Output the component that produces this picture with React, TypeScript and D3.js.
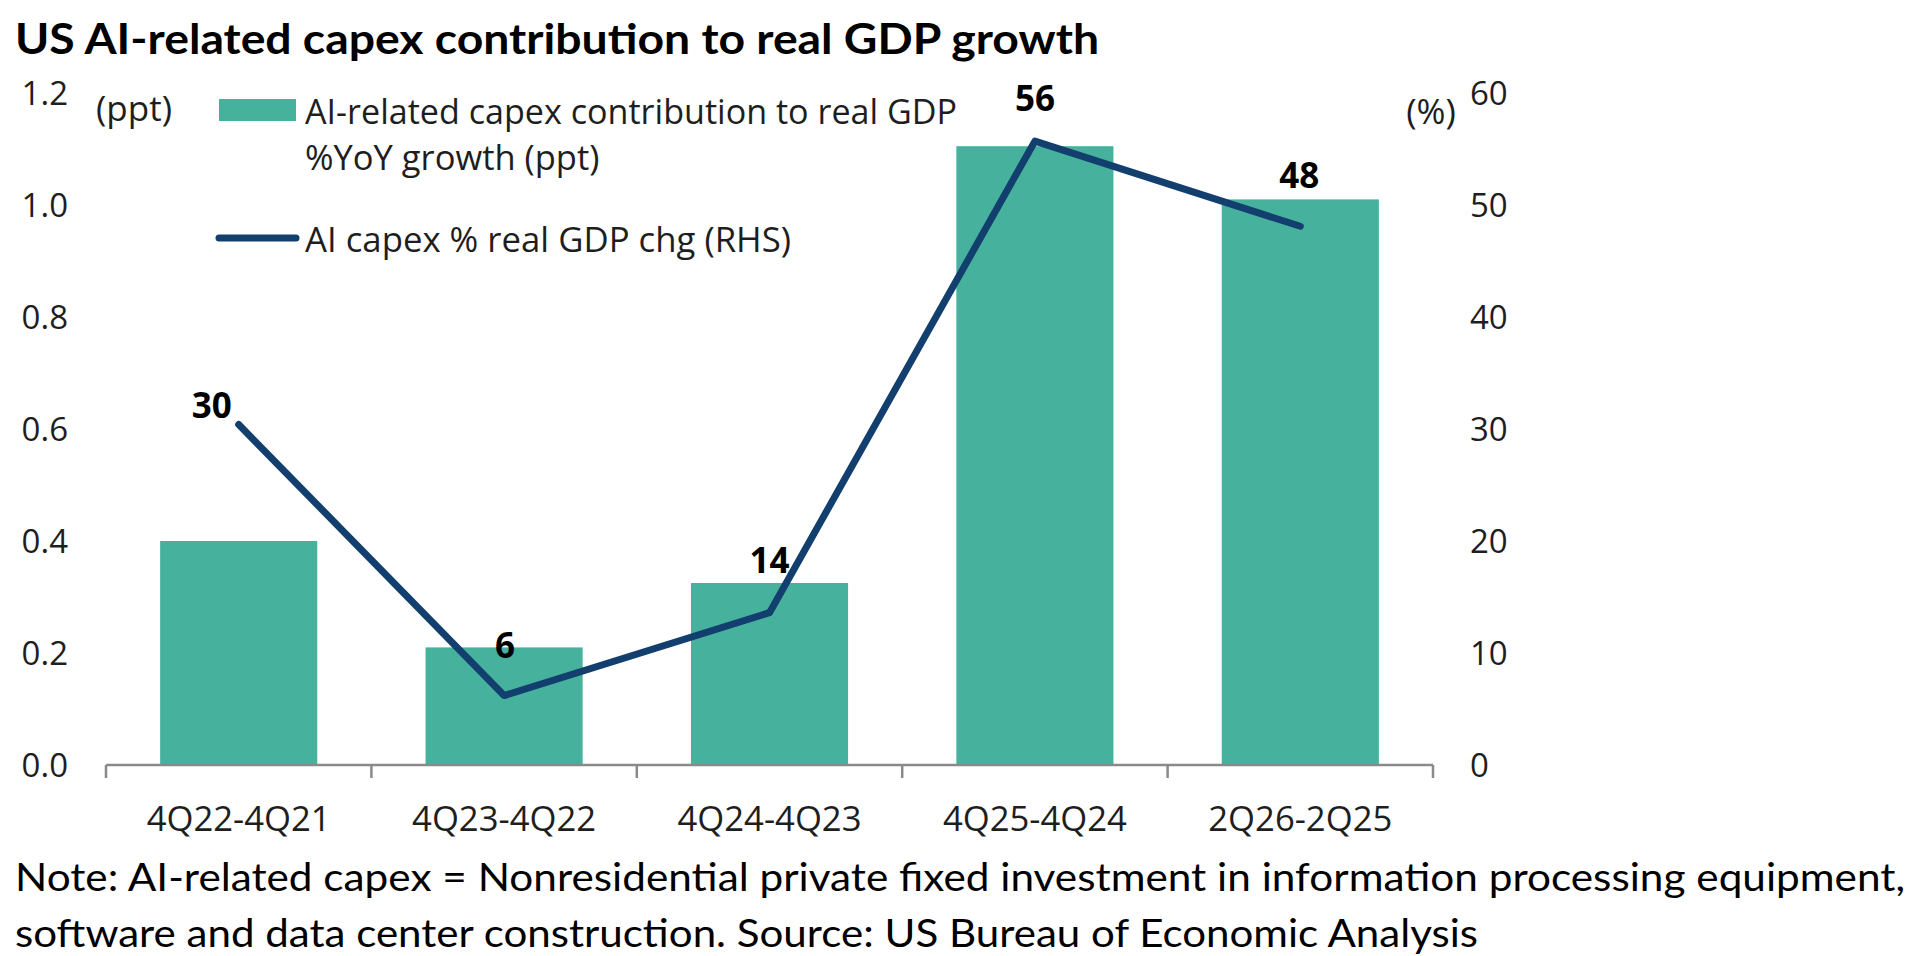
import React from 'react';
import * as d3 from 'd3';

// chart values
const categories = ['4Q22-4Q21', '4Q23-4Q22', '4Q24-4Q23', '4Q25-4Q24', '2Q26-2Q25'];
const capexContribution = [0.40, 0.21, 0.325, 1.105, 1.01]; // ppt, left axis
const capexShareOfGdpChg = [30.4, 6.2, 13.6, 55.7, 48.1]; // %, right axis
const leftTicks = [0, 0.2, 0.4, 0.6, 0.8, 1.0, 1.2];
const rightTicks = [0, 10, 20, 30, 40, 50, 60];

const title = 'US AI-related capex contribution to real GDP growth';
const noteLines = [
  'Note: AI-related capex = Nonresidential private fixed investment in information processing equipment,',
  'software and data center construction. Source: US Bureau of Economic Analysis',
];
const barLegend = ['AI-related capex contribution to real GDP', '%YoY growth (ppt)'];
const lineLegend = 'AI capex % real GDP chg (RHS)';

// label nudges (dx, dy) from each line point, as placed in the original
const labelOffsets: [number, number][] = [[-27, -7], [1, -38], [0, -40], [0, -30], [-1, -38]];

const W = 1908;
const H = 956;
const TEAL = '#46B29D';
const NAVY = '#123F6E';
const AXIS = '#8A8A8A';
const INK = '#1E1E1E';
const UI_FONT = '"Open Sans", "Noto Sans", sans-serif';
const TITLE_FONT = 'Lato, "Open Sans", sans-serif';

const plot = { left: 106, right: 1433, top: 93, bottom: 765 };

export default function App() {
  const x = d3.scaleBand<string>()
    .domain(categories)
    .range([plot.left, plot.right])
    .paddingInner(0.408)
    .paddingOuter(0.204);

  const yLeft = d3.scaleLinear().domain([0, 1.2]).range([plot.bottom, plot.top]);
  const yRight = d3.scaleLinear().domain([0, 60]).range([plot.bottom, plot.top]);

  const cx = (c: string) => (x(c) as number) + x.bandwidth() / 2;

  const line = d3.line<number>()
    .x((_, i) => cx(categories[i]))
    .y(d => yRight(d));

  const step = x.step();
  const tickXs = d3.range(categories.length + 1).map(i => plot.left + i * step);

  return (
    <svg width={W} height={H} style={{ position: 'absolute', left: 0, top: 0, background: '#fff' }}>
      {/* Title */}
      <text x={15} y={54} fontFamily={TITLE_FONT} fontWeight={700} fontSize={42} fill="#000"
        textLength={1084} lengthAdjust="spacingAndGlyphs">{title}</text>

      {/* Bars */}
      {capexContribution.map((v, i) => (
        <rect key={categories[i]} x={x(categories[i])} y={yLeft(v)} width={x.bandwidth()}
          height={yLeft(0) - yLeft(v)} fill={TEAL} />
      ))}

      {/* Category axis */}
      <g stroke={AXIS} strokeWidth={2.5} fill="none">
        <line x1={plot.left} x2={plot.right} y1={plot.bottom} y2={plot.bottom} />
        {tickXs.map((tx, i) => (
          <line key={i} x1={tx} x2={tx} y1={plot.bottom} y2={plot.bottom + 13} />
        ))}
      </g>
      {categories.map(c => (
        <text key={c} x={cx(c)} y={831} textAnchor="middle" fontFamily={UI_FONT} fontSize={35} fill={INK}
          textLength={184} lengthAdjust="spacingAndGlyphs">{c}</text>
      ))}

      {/* Left axis labels */}
      {leftTicks.map(t => (
        <text key={t} x={68} y={yLeft(t)} dy="0.36em" textAnchor="end" fontFamily={UI_FONT} fontSize={33} fill={INK}>
          {d3.format('.1f')(t)}
        </text>
      ))}
      <text x={134} y={108} dy="0.36em" textAnchor="middle" fontFamily={UI_FONT} fontSize={35} fill={INK}>(ppt)</text>

      {/* Right axis labels */}
      {rightTicks.map(t => (
        <text key={t} x={1470} y={yRight(t)} dy="0.36em" textAnchor="start" fontFamily={UI_FONT} fontSize={33} fill={INK}>
          {t}
        </text>
      ))}
      <text x={1431} y={111} dy="0.36em" textAnchor="middle" fontFamily={UI_FONT} fontSize={35} fill={INK}>(%)</text>

      {/* Line */}
      <path d={line(capexShareOfGdpChg) as string} fill="none" stroke={NAVY} strokeWidth={7}
        strokeLinecap="round" strokeLinejoin="round" />

      {/* Data labels */}
      {capexShareOfGdpChg.map((v, i) => (
        <text key={i} x={cx(categories[i]) + labelOffsets[i][0]} y={yRight(v) + labelOffsets[i][1]}
          textAnchor="middle" fontFamily={UI_FONT} fontWeight={700} fontSize={35} fill="#000">
          {d3.format('.0f')(v)}
        </text>
      ))}

      {/* Legend */}
      <rect x={219} y={99} width={77} height={22} fill={TEAL} />
      <text x={305} y={112} dy="0.36em" fontFamily={UI_FONT} fontSize={34.5} fill={INK}
        textLength={652} lengthAdjust="spacingAndGlyphs">{barLegend[0]}</text>
      <text x={305} y={158} dy="0.36em" fontFamily={UI_FONT} fontSize={34.5} fill={INK}>{barLegend[1]}</text>
      <line x1={219} x2={296} y1={238} y2={238} stroke={NAVY} strokeWidth={7} strokeLinecap="round" />
      <text x={305} y={240} dy="0.36em" fontFamily={UI_FONT} fontSize={34.5} fill={INK}
        textLength={486} lengthAdjust="spacingAndGlyphs">{lineLegend}</text>

      {/* Note */}
      <text x={15} y={891} fontFamily={TITLE_FONT} fontSize={38} fill="#000"
        textLength={1890} lengthAdjust="spacingAndGlyphs">{noteLines[0]}</text>
      <text x={15} y={947} fontFamily={TITLE_FONT} fontSize={38} fill="#000"
        textLength={1463} lengthAdjust="spacingAndGlyphs">{noteLines[1]}</text>
    </svg>
  );
}
